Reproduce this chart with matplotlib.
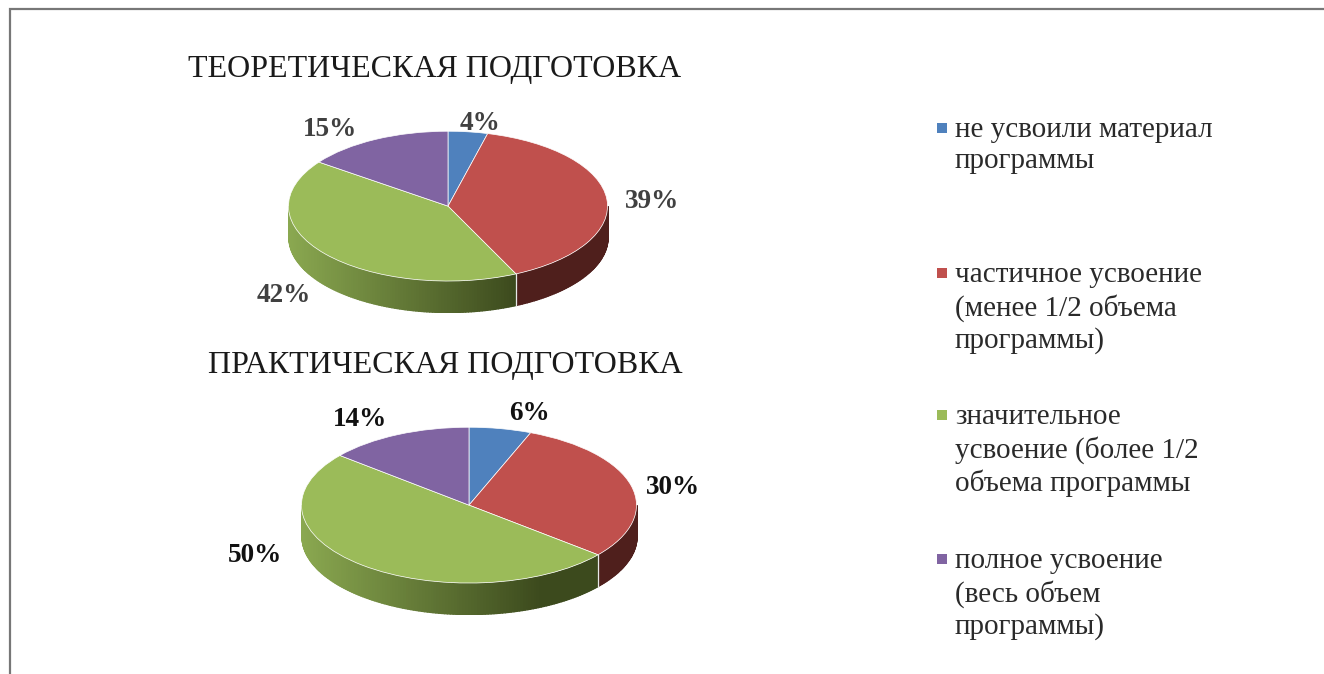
import numpy as np
import matplotlib
matplotlib.use('Agg')
import matplotlib.pyplot as plt

plt.rcParams['font.family'] = ['Liberation Serif', 'DejaVu Serif']

# data
titles = ['ТЕОРЕТИЧЕСКАЯ ПОДГОТОВКА', 'ПРАКТИЧЕСКАЯ ПОДГОТОВКА']
theory = [4, 39, 42, 15]
practice = [6, 30, 50, 14]
legend_labels = ['не усвоили материал\nпрограммы',
                 'частичное усвоение\n(менее 1/2 объема\nпрограммы)',
                 'значительное\nусвоение (более 1/2\nобъема программы',
                 'полное усвоение\n(весь объем\nпрограммы)']
colors = ['#4f81bd', '#c0504d', '#9bbb59', '#8064a2']
side_dark = ['#25405f', '#4f1f1c', '#3c4a1d', '#40325a']
side_light = ['#4f81bd', '#4f1f1c', '#8aa850', '#8064a2']

W, H = 1324, 674
fig = plt.figure(figsize=(W / 100, H / 100), dpi=100)


def mix(a, b, t):
    a = np.array(matplotlib.colors.to_rgb(a))
    b = np.array(matplotlib.colors.to_rgb(b))
    return a + (b - a) * t


def draw_pie(values, cx, cy, rx, ry, depth):
    top = cy - ry
    bottom = cy + ry + depth
    ax = fig.add_axes([(cx - rx) / W, 1 - bottom / H, 2 * rx / W, (bottom - top) / H])
    ax.pie(values, colors=colors, startangle=90, counterclock=False, radius=1,
           wedgeprops={'edgecolor': 'white', 'linewidth': 0.5})
    d = depth / ry

    # side wall of the disc, one thin strip per degree
    edges = 90 - np.cumsum([0] + list(values)) * 3.6
    for i in range(len(values)):
        for a in np.arange(edges[i], edges[i + 1], -1.0):
            a2 = max(a - 1.0, edges[i + 1])
            if np.sin(np.radians(a)) > 0 and np.sin(np.radians(a2)) > 0:
                continue
            xs = np.cos(np.radians([a, a2]))
            ys = np.minimum(np.sin(np.radians([a, a2])), 0)
            t = np.clip((0.43 - xs[0]) / 1.43, 0, 1)
            col = mix(side_dark[i], side_light[i], t)
            ax.fill_between(xs, ys - d, ys, facecolor=col, edgecolor=col, lw=1.0,
                            antialiased=False, zorder=0)
    # white seams between walls
    for e in edges:
        if np.sin(np.radians(e)) < 0:
            x, y = np.cos(np.radians(e)), np.sin(np.radians(e))
            ax.plot([x, x], [y, y - d], color='#e8e8e8', lw=0.9, zorder=1)

    ax.set_aspect('auto')
    ax.set_xlim(-1.003, 1.003)
    ax.set_ylim(-1 - d, 1.003)
    ax.axis('off')


draw_pie(theory, 448, 206, 160, 75, 31)
draw_pie(practice, 469, 505, 168, 78, 31)

# overlay in pixel coordinates for the frame, titles, labels and legend
ov = fig.add_axes([0, 0, 1, 1], zorder=5)
ov.set_xlim(0, W)
ov.set_ylim(H, 0)
ov.axis('off')
ov.patch.set_alpha(0)

ov.plot([9.5, 9.5, W], [H, 9, 9], color='#777777', lw=1.6, solid_joinstyle='miter')

ov.text(434.5, 70, titles[0], fontsize=23, color='#1a1a1a', ha='center', va='center')
ov.text(445.5, 366, titles[1], fontsize=23, color='#1a1a1a', ha='center', va='center')

for val, x, y in zip(theory, [480, 652, 284, 330], [123, 201, 296, 129]):
    ov.text(x, y, f'{val}%', fontsize=19.5, fontweight='bold', color='#404040',
            ha='center', va='center')
for val, x, y in zip(practice, [529, 673, 255, 360], [413, 487, 556, 420]):
    ov.text(x, y, f'{val}%', fontsize=19.5, fontweight='bold', color='#111111',
            ha='center', va='center')

legend_y = [129, 274, 416, 560]
for lab, col, y in zip(legend_labels, colors, legend_y):
    ov.scatter([942], [y - 1], marker='s', s=50, color=col, linewidths=0)
    ov.text(955, y - 12, lab, fontsize=21, color='#2a2a2a', ha='left', va='top',
            linespacing=1.27)

fig.savefig('out.png', dpi=100)
